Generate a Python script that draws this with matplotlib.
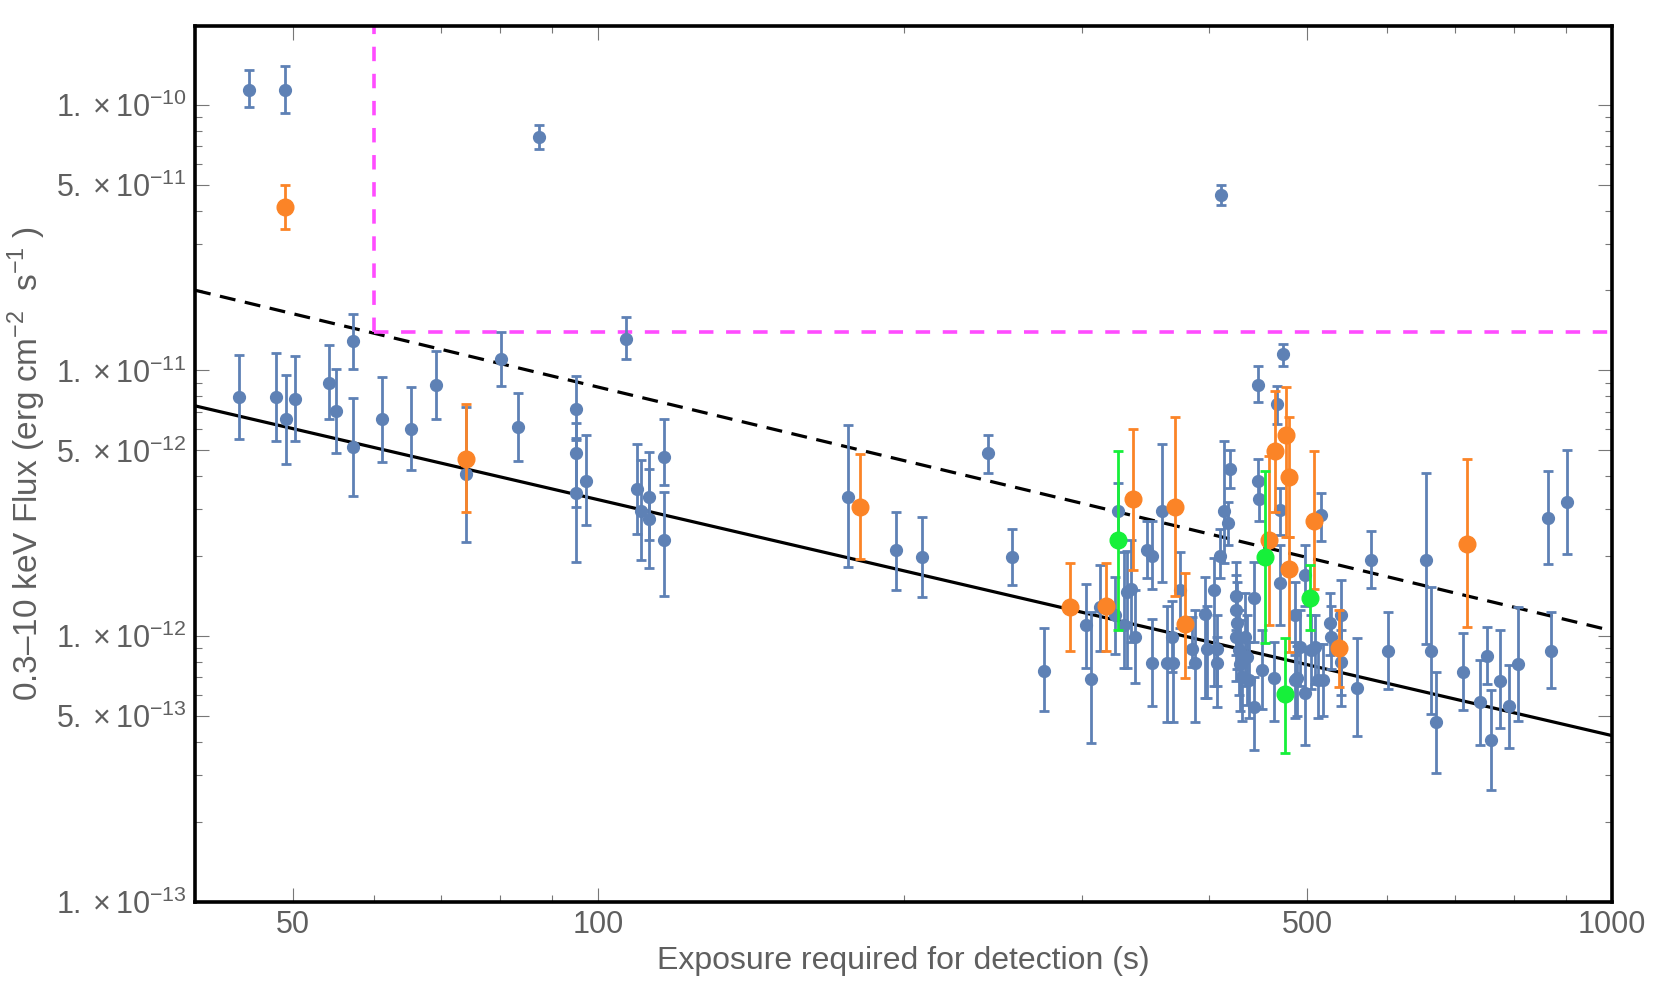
import numpy as np
import matplotlib
matplotlib.use("Agg")
import matplotlib.pyplot as plt
from matplotlib.ticker import FixedLocator, NullFormatter

plt.rcParams['font.family'] = ['Liberation Sans', 'DejaVu Sans']
plt.rcParams['mathtext.fontset'] = 'custom'
plt.rcParams['mathtext.rm'] = 'Liberation Sans'

# blue sources: exposure (s), flux, upper and lower bound of the error bar
blue_t = [45.2, 49.1, 87.4, 106.4, 57.2, 44.2, 48.1, 49.2, 50.2, 54.2, 55.1, 57.2, 61.2, 65.3,
          69.2, 74.1, 80.1, 83.3, 95.1, 95.1, 95.1, 97.3, 109.1, 110.2, 112.1, 112.1, 116.1, 116.1,
          176.3, 196.4, 208.4, 242.3, 256.0, 275.1, 302.8, 306.5, 411.8,
          312.8, 323.0, 325.6, 330.0, 332.2, 335.0, 338.6, 347.7, 351.7, 351.7, 359.7, 364.0, 369.0,
          368.0, 375.0, 385.0, 388.0, 396.8, 398.5, 404.5, 408.0, 408.0, 410.6, 413.7, 417.8, 419.5,
          425.6, 425.6, 426.6, 425.6, 428.2, 429.8, 431.4, 434.7, 436.3, 438.0, 443.0, 443.0, 447.3,
          448.0, 447.3, 451.0, 463.5, 467.0, 470.6, 470.6, 474.0,
          486.5, 486.5, 489.0, 491.9, 497.7, 497.7, 505.0, 509.4, 513.0, 519.0, 516.8, 527.0, 528.0,
          540.8, 540.8,
          560, 578, 601, 656, 663, 671, 713, 740, 753, 760, 776, 791, 807, 864, 871, 903]
blue_f = [1.14e-10, 1.14e-10, 7.55e-11, 1.31e-11, 1.29e-11, 7.96e-12, 7.96e-12, 6.58e-12, 7.8e-12,
          8.99e-12, 7.05e-12, 5.16e-12, 6.58e-12, 6.03e-12, 8.81e-12, 4.06e-12, 1.10e-11, 6.14e-12,
          7.15e-12, 4.9e-12, 3.47e-12, 3.85e-12, 3.57e-12, 2.96e-12, 3.34e-12, 2.77e-12, 4.73e-12,
          2.29e-12,
          3.34e-12, 2.1e-12, 1.99e-12, 4.9e-12, 1.99e-12, 7.4e-13, 1.10e-12, 6.89e-13, 4.57e-11,
          1.29e-12, 1.2e-12, 2.96e-12, 1.10e-12, 1.47e-12, 1.5e-12, 9.94e-13, 2.11e-12, 2.0e-12,
          7.94e-13, 2.96e-12, 7.9e-13, 7.9e-13, 9.96e-13, 1.49e-12, 8.93e-13, 7.9e-13, 1.21e-12,
          8.93e-13, 1.49e-12, 8.93e-13, 7.9e-13, 2.0e-12, 2.96e-12, 2.67e-12, 4.25e-12,
          1.41e-12, 1.25e-12, 1.12e-12, 9.96e-13, 8.86e-13, 7.88e-13, 7.03e-13, 9.96e-13, 8.36e-13,
          6.84e-13, 1.39e-12, 5.42e-13, 3.83e-12, 3.27e-12, 8.8e-12, 7.46e-13, 6.94e-13, 7.47e-12,
          2.98e-12, 1.58e-12, 1.15e-11,
          6.84e-13, 1.2e-12, 6.97e-13, 9.12e-13, 6.1e-13, 1.70e-12, 8.86e-13, 9.12e-13, 6.84e-13,
          6.84e-13, 2.86e-12, 1.12e-12, 9.96e-13, 1.2e-12, 7.96e-13,
          6.4e-13, 1.94e-12, 8.8e-13, 1.94e-12, 8.8e-13, 4.73e-13, 7.3e-13, 5.64e-13, 8.4e-13,
          4.07e-13, 6.8e-13, 5.45e-13, 7.85e-13, 2.79e-12, 8.8e-13, 3.19e-12]
blue_hi = [1.35e-10, 1.40e-10, 8.41e-11, 1.59e-11, 1.63e-11, 1.14e-11, 1.16e-11, 9.58e-12, 1.13e-11,
           1.25e-11, 1.01e-11, 7.85e-12, 9.41e-12, 8.68e-12, 1.18e-11, 7.3e-12, 1.40e-11, 8.19e-12,
           9.52e-12, 6.32e-12, 5.47e-12, 5.71e-12, 5.28e-12, 4.6e-12, 4.94e-12, 4.26e-12, 6.55e-12,
           3.49e-12,
           6.22e-12, 2.92e-12, 2.81e-12, 5.71e-12, 2.54e-12, 1.07e-12, 1.57e-12, 1.23e-12, 4.97e-11,
           1.85e-12, 1.67e-12, 3.76e-12, 2.08e-12, 2.09e-12, 2.3e-12, 1.49e-12, 2.71e-12, 2.71e-12,
           1.16e-12, 5.3e-12, 1.3e-12, 1.0e-12, 1.35e-12, 2.08e-12, 1.18e-12, 1.25e-12, 1.67e-12,
           1.3e-12, 1.96e-12, 1.2e-12, 9.9e-13, 2.54e-12, 5.42e-12, 3.2e-12, 5.01e-12,
           1.9e-12, 1.7e-12, 1.6e-12, 1.4e-12, 1.25e-12, 1.15e-12, 1.0e-12, 1.45e-12, 1.2e-12,
           9.5e-13, 1.9e-12, 7.03e-13, 4.63e-12, 3.9e-12, 1.04e-11, 1.05e-12, 9.5e-13, 8.75e-12,
           3.6e-12, 2.2e-12, 1.26e-11,
           9.5e-13, 1.6e-12, 9.2e-13, 1.25e-12, 8.8e-13, 2.2e-12, 1.2e-12, 1.2e-12, 9.3e-13,
           9.3e-13, 3.45e-12, 1.45e-12, 1.3e-12, 1.63e-12, 1.05e-12,
           9.8e-13, 2.48e-12, 1.23e-12, 4.11e-12, 1.53e-12, 7.3e-13, 1.03e-12, 8.1e-13, 1.08e-12,
           6.25e-13, 1.05e-12, 7.8e-13, 1.29e-12, 4.2e-12, 1.23e-12, 5.0e-12]
blue_lo = [9.8e-11, 9.3e-11, 6.79e-11, 1.10e-11, 1.01e-11, 5.5e-12, 5.43e-12, 4.46e-12, 5.42e-12,
           6.56e-12, 4.88e-12, 3.37e-12, 4.53e-12, 4.22e-12, 6.58e-12, 2.26e-12, 8.75e-12, 4.57e-12,
           5.56e-12, 3.05e-12, 1.9e-12, 2.63e-12, 2.42e-12, 1.93e-12, 2.3e-12, 1.81e-12, 3.7e-12,
           1.41e-12,
           1.82e-12, 1.49e-12, 1.40e-12, 4.12e-12, 1.55e-12, 5.22e-13, 7.6e-13, 3.95e-13, 4.2e-11,
           8.8e-13, 8.55e-13, 2.3e-12, 7.6e-13, 7.6e-13, 9.5e-13, 6.67e-13, 1.65e-12, 1.5e-12,
           5.47e-13, 1.6e-12, 4.75e-13, 4.75e-13, 7.3e-13, 1.07e-12, 7.67e-13, 4.75e-13, 5.83e-13,
           5.83e-13, 6.46e-13, 6.5e-13, 5.4e-13, 1.65e-12, 1.89e-12, 2.2e-12, 3.61e-12,
           1.05e-12, 8.5e-13, 7.5e-13, 6.8e-13, 6.0e-13, 5.2e-13, 4.8e-13, 6.5e-13, 5.5e-13,
           4.9e-13, 9.5e-13, 3.72e-13, 3.27e-12, 2.7e-12, 7.62e-12, 5.3e-13, 4.8e-13, 6.3e-12,
           2.4e-12, 1.1e-12, 1.04e-11,
           4.9e-13, 8.5e-13, 5.0e-13, 6.5e-13, 3.9e-13, 1.3e-12, 6.3e-13, 6.6e-13, 4.9e-13,
           5.0e-13, 2.28e-12, 8.5e-13, 7.5e-13, 5.45e-13, 6.0e-13,
           4.2e-13, 1.52e-12, 6.3e-13, 9.3e-13, 5.1e-13, 3.06e-13, 5.28e-13, 3.9e-13, 6.6e-13,
           2.63e-13, 4.52e-13, 3.8e-13, 4.78e-13, 1.87e-12, 6.35e-13, 2.03e-12]

# orange sources
orange_t = [49.1, 74.1, 181.1, 291.7, 316.6, 337.0, 370.7, 379.3, 459.0, 465.0, 476.4, 480.6,
            480.0, 508.0, 538.0, 719.0]
orange_f = [4.11e-11, 4.65e-12, 3.05e-12, 1.29e-12, 1.30e-12, 3.28e-12, 3.07e-12, 1.11e-12,
            2.29e-12, 4.98e-12, 5.72e-12, 3.98e-12, 1.79e-12, 2.72e-12, 9.0e-13, 2.22e-12]
orange_hi = [5.0e-11, 7.45e-12, 4.83e-12, 1.89e-12, 1.89e-12, 6.0e-12, 6.65e-12, 1.72e-12,
             4.78e-12, 8.38e-12, 8.68e-12, 6.68e-12, 2.37e-12, 4.97e-12, 1.25e-12, 4.64e-12]
orange_lo = [3.41e-11, 2.92e-12, 1.95e-12, 8.81e-13, 8.81e-13, 1.78e-12, 1.42e-12, 6.94e-13,
             1.10e-12, 2.94e-12, 2.37e-12, 2.35e-12, 8.69e-13, 1.50e-12, 6.41e-13, 1.08e-12]

# green sources
green_t = [325.3, 454.7, 475.9, 503.0]
green_f = [2.29e-12, 1.99e-12, 6.04e-13, 1.39e-12]
green_hi = [4.98e-12, 4.19e-12, 9.8e-13, 1.85e-12]
green_lo = [1.05e-12, 9.4e-13, 3.62e-13, 1.05e-12]

# power-law limits: flux at 100 s and slope
solid_norm, solid_slope = 3.26e-12, -0.888
dashed_norm, dashed_slope = 8.65e-12, -0.917

# selection box
exp_cut = 60
flux_cut = 1.4e-11

xmin, xmax = 40, 1000
ymin, ymax = 1e-13, 1.98e-10

c_blue = '#5E81B5'
c_orange = '#FB8427'
c_green = '#16F03A'
c_magenta = '#FF4CFF'
c_text = '#5f5f5f'

fig = plt.figure(figsize=(16.7, 9.96), dpi=100)
ax = fig.add_axes([0.1168, 0.0947, 0.8485, 0.8792])
ax.set_xscale('log')
ax.set_yscale('log')
ax.set_xlim(xmin, xmax)
ax.set_ylim(ymin, ymax)


def draw(t, f, hi, lo, color, ms, lw, z):
    t = np.array(t)
    f = np.array(f)
    err = [f - np.array(lo), np.array(hi) - f]
    ax.errorbar(t, f, yerr=err, fmt='o', color=color, ms=ms, elinewidth=lw,
                capsize=3.5, capthick=lw, zorder=z)


tt = np.logspace(np.log10(xmin), np.log10(xmax), 200)
ax.plot(tt, solid_norm * (tt / 100) ** solid_slope, color='black', lw=2.3, zorder=2)
ax.plot(tt, dashed_norm * (tt / 100) ** dashed_slope, color='black', lw=2.3,
        dashes=(5, 3), zorder=2)

ax.vlines(exp_cut, flux_cut, ymax, color=c_magenta, lw=2.6, linestyles=(0, (4, 3.5)), zorder=2)
ax.hlines(flux_cut, exp_cut, xmax, color=c_magenta, lw=2.6, linestyles=(0, (4, 3.5)), zorder=2)

draw(blue_t, blue_f, blue_hi, blue_lo, c_blue, 8.5, 2.0, 3)
draw(orange_t, orange_f, orange_hi, orange_lo, c_orange, 12, 2.0, 4)
draw(green_t, green_f, green_hi, green_lo, c_green, 12, 2.0, 5)

# ticks
ax.xaxis.set_major_locator(FixedLocator([50, 100, 500, 1000]))
ax.xaxis.set_minor_locator(FixedLocator([60, 70, 80, 90, 200, 300, 400, 600, 700, 800, 900]))
ax.set_xticklabels(['50', '100', '500', '1000'])
ax.xaxis.set_minor_formatter(NullFormatter())

yt = [1e-13, 5e-13, 1e-12, 5e-12, 1e-11, 5e-11, 1e-10]
ylab = []
for v in yt:
    e = int(np.floor(np.log10(v)))
    m = int(round(v / 10 ** e))
    ylab.append(r'$\mathregular{%d.\,{\times}\,10^{%d}}$' % (m, e))
ax.yaxis.set_major_locator(FixedLocator(yt))
ax.set_yticklabels(ylab)
ym = []
for e in range(-13, -9):
    for m in [2, 3, 4, 6, 7, 8, 9]:
        if m * 10.0 ** e < ymax:
            ym.append(m * 10.0 ** e)
ax.yaxis.set_minor_locator(FixedLocator(ym))
ax.yaxis.set_minor_formatter(NullFormatter())

ax.tick_params(which='both', direction='in', top=True, right=True, color='#777777',
               labelcolor=c_text, labelsize=22, width=0.8)
ax.tick_params(which='major', length=10, pad=6)
ax.tick_params(which='minor', length=5)

for s in ax.spines.values():
    s.set_linewidth(2.6)
    s.set_color('black')

ax.set_xlabel('Exposure required for detection (s)', fontsize=23, color=c_text, labelpad=4)
ax.set_ylabel(r'0.3–10 keV Flux (erg cm$^{\mathregular{-2}}$  s$^{\mathregular{-1}}$ )',
              fontsize=24, color=c_text, labelpad=6)

fig.savefig('out.png', dpi=100)
